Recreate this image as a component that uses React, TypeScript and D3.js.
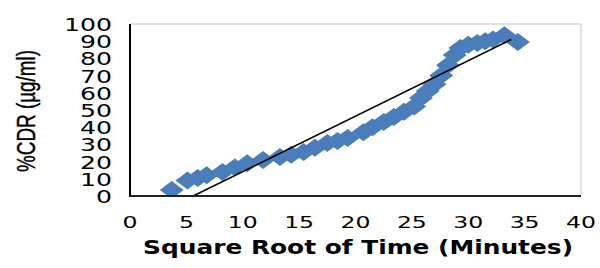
import * as d3 from 'd3';

// sqrt(time) vs %CDR
const sqrtTime = [3.7, 5.1, 6.0, 6.8, 8.2, 9.3, 10.4, 11.8, 13.3, 14.3, 15.4, 16.4, 17.5, 18.4, 19.3, 20.7, 21.5, 22.5, 23.4, 24.3, 25.2, 25.8, 26.4, 27.0, 27.6, 28.2, 28.8, 29.3, 30.0, 30.8, 31.5, 32.2, 33.2, 34.4];
const cdr = [3.5, 9, 10.5, 12, 14, 16.5, 19, 21, 22.7, 24, 25.6, 28, 30.8, 32, 33.7, 37, 40, 43, 46, 49, 52, 57, 61, 65, 70, 76, 82, 86, 88, 89, 90, 91, 93.5, 89.5];

// linear trendline end points (clipped at the axis)
const trendX = [5.6, 33.8];
const trendY = [0, 91];

const xTicks = [0, 5, 10, 15, 20, 25, 30, 35, 40];
const yTicks = [0, 10, 20, 30, 40, 50, 60, 70, 80, 90, 100];

const W = 600;
const H = 268;

export default function App() {
  const margin = { top: 24, right: 19, bottom: 72, left: 130 };
  const x = d3.scaleLinear().domain([0, 40]).range([margin.left, W - margin.right]);
  const y = d3.scaleLinear().domain([0, 100]).range([H - margin.bottom, margin.top]);

  const diamond = (cx: number, cy: number) => {
    const hw = 12, hh = 9;
    return `M${cx},${cy - hh}L${cx + hw},${cy}L${cx},${cy + hh}L${cx - hw},${cy}Z`;
  };

  const line = d3.line<number>()
    .x((_, i) => x(trendX[i]))
    .y((_, i) => y(trendY[i]));

  return (
    <svg width={W} height={H} style={{ position: 'absolute', left: 0, top: 0, background: '#fff' }}
      fontFamily="'DejaVu Sans', sans-serif">
      <defs>
        <clipPath id="plot">
          <rect x={x(0)} y={y(100)} width={x(40) - x(0)} height={y(0) - y(100)} />
        </clipPath>
      </defs>

      {/* plot frame */}
      <line x1={x(0)} x2={x(40)} y1={y(100)} y2={y(100)} stroke="#d9d9d9" strokeWidth={1.5} />
      <line x1={x(40)} x2={x(40)} y1={y(100)} y2={y(0)} stroke="#d9d9d9" strokeWidth={1.5} />

      <g clipPath="url(#plot)">
        {sqrtTime.map((t, i) => (
          <path key={i} d={diamond(x(t), y(cdr[i]))} fill="#4a7ebb" />
        ))}
        <path d={line(trendX) || ''} fill="none" stroke="#000" strokeWidth={1.6} />
      </g>

      <line x1={x(0)} x2={x(0)} y1={y(100)} y2={y(0) + 1} stroke="#000" strokeWidth={2} />
      <line x1={x(0)} x2={x(40)} y1={y(0)} y2={y(0)} stroke="#222" strokeWidth={2} />

      {/* y tick labels */}
      {yTicks.map(v => {
        const s = String(v);
        return (
          <text key={v} x={112} y={y(v) + 7} textAnchor="end" fontSize={18.5} fill="#000"
            textLength={s.length * 16} lengthAdjust="spacingAndGlyphs">{s}</text>
        );
      })}

      {/* x tick labels */}
      {xTicks.map(v => {
        const s = String(v);
        return (
          <text key={v} x={x(v)} y={228} textAnchor="middle" fontSize={15.5} fill="#000"
            textLength={s.length * 15} lengthAdjust="spacingAndGlyphs">{s}</text>
        );
      })}

      <text x={358} y={254} textAnchor="middle" fontSize={19} fontWeight="bold" fill="#000"
        textLength={430} lengthAdjust="spacingAndGlyphs">Square Root of Time (Minutes)</text>

      <text transform={`translate(35,111) rotate(-90)`} textAnchor="middle" fontSize={26} fill="#000"
        stroke="#000" strokeWidth={0.4}
        fontFamily="'Liberation Sans', sans-serif"
        textLength={122} lengthAdjust="spacingAndGlyphs">%CDR (µg/ml)</text>
    </svg>
  );
}
